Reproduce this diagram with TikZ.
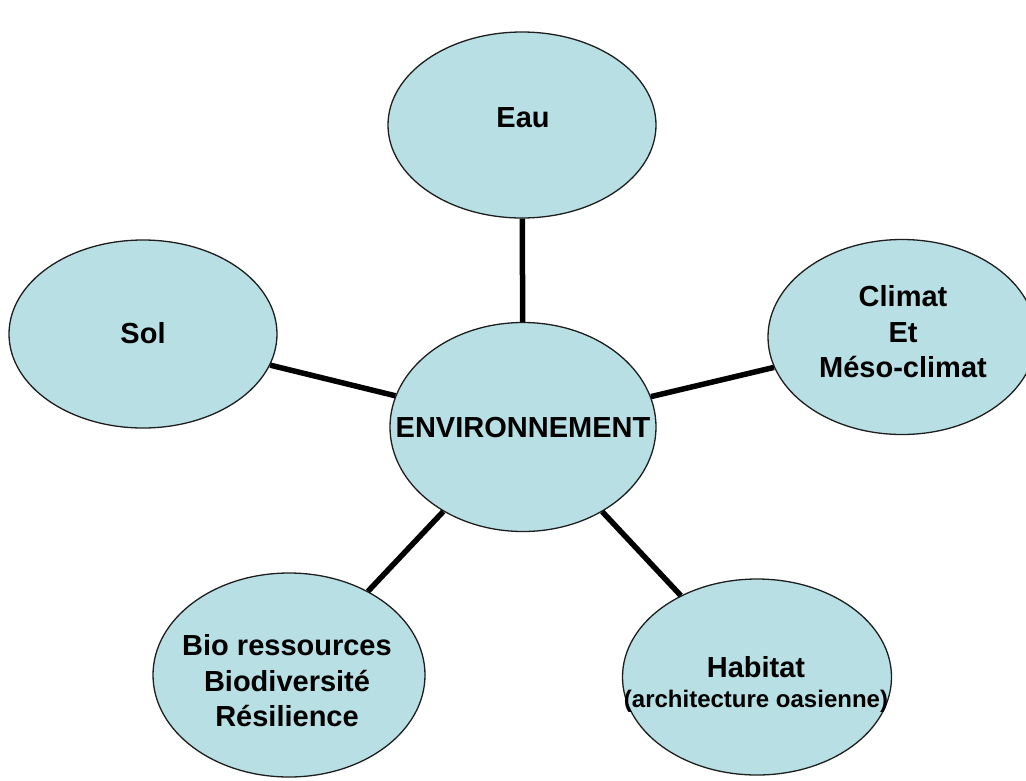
\documentclass[tikz,border=0pt]{standalone}
\usepackage{fontspec}
\setmainfont{Liberation Sans}
\usetikzlibrary{shapes.geometric}
\definecolor{bubblefill}{RGB}{184,223,227}
\definecolor{bubbleline}{RGB}{30,30,30}
\tikzset{
  bubble/.style={ellipse, draw=bubbleline, line width=1.3pt, fill=bubblefill, inner sep=0pt},
  lbl/.style={font=\bfseries\fontsize{29}{35.5}\selectfont, align=center, inner sep=0pt, text=black},
  link/.style={line width=5.5pt, black}
}
\begin{document}
\begin{tikzpicture}[x=1pt,y=-1pt]
\useasboundingbox (0,0) rectangle (1026,780);
\clip (0,0) rectangle (1026,780);
% ellipses
\node[bubble, minimum width=268pt, minimum height=186pt] (eau) at (522,125) {};
\node[bubble, minimum width=268pt, minimum height=188pt] (sol) at (143,334) {};
\node[bubble, minimum width=268pt, minimum height=195pt] (clim) at (902,337) {};
\node[bubble, minimum width=266pt, minimum height=209pt] (env) at (523,427) {};
\node[bubble, minimum width=272pt, minimum height=204pt] (bio) at (289,675) {};
\node[bubble, minimum width=269pt, minimum height=196pt] (hab) at (757,677) {};
% connectors
\draw[link] (env) -- (eau);
\draw[link] (env) -- (sol);
\draw[link] (env) -- (clim);
\draw[link] (env) -- (bio);
\draw[link] (env) -- (hab);
% labels
\node[lbl] (teau) at (523,118) {Eau};
\node[lbl] (tsol) at (143,333) {Sol};
\node[lbl] (tclim) at (903,332) {Climat\\Et\\Méso-climat};
\node[lbl] (tenv) at (523,428) {ENVIRONNEMENT};
\node[lbl] (tbio) at (287,681) {Bio ressources\\Biodiversité\\Résilience};
\node[lbl, font=\bfseries\fontsize{29}{30}\selectfont] (thab) at (756,684) {Habitat\\{\fontsize{24}{30}\selectfont (architecture oasienne)}};
\end{tikzpicture}
\end{document}
